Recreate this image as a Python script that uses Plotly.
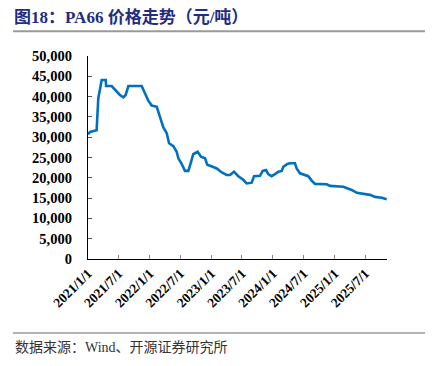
import plotly.graph_objects as go

dates = ["2021-01-01","2021-01-13","2021-02-21","2021-03-03","2021-03-13","2021-03-23","2021-04-16","2021-04-18",
         "2021-05-21","2021-06-10","2021-07-09","2021-07-29","2021-08-12","2021-08-28","2021-11-15","2021-12-04",
         "2021-12-24","2022-01-13","2022-02-12","2022-03-03","2022-03-23","2022-04-12","2022-04-26","2022-05-21",
         "2022-06-10","2022-06-20","2022-07-10","2022-07-29","2022-08-18","2022-09-01","2022-09-16","2022-10-12",
         "2022-11-01","2022-11-25","2022-12-08","2023-01-09","2023-02-02","2023-03-04","2023-04-02","2023-04-22",
         "2023-05-15","2023-06-10","2023-07-09","2023-07-29","2023-08-28","2023-09-11","2023-10-16","2023-11-01",
         "2023-11-21","2023-12-04","2023-12-24","2024-01-13","2024-02-02","2024-02-22","2024-03-02","2024-03-26",
         "2024-04-11","2024-05-10","2024-05-20","2024-06-09","2024-07-09","2024-07-28","2024-08-17","2024-09-06",
         "2024-11-14","2024-12-04","2025-02-20","2025-03-12","2025-04-11","2025-05-11","2025-06-29","2025-07-28",
         "2025-08-27","2025-10-06","2025-11-04"]
prices = [30700,31300,31700,39600,41800,44100,44100,42600,
          42600,41600,40400,39800,40400,42600,42600,40800,
          39000,37800,37500,35000,32400,31000,28500,27800,
          26400,24800,23400,21700,21700,23600,25800,26400,
          25200,24800,23200,22700,22300,21300,20700,20700,
          21500,20400,19500,18600,18800,20400,20500,21700,
          21900,20900,20400,20900,21500,21700,22700,23400,
          23600,23600,22300,21100,20700,20400,19300,18500,
          18400,18000,17800,17500,17000,16300,16000,15800,
          15300,15100,14700]

tick_vals = ["2021-01-01","2021-07-01","2022-01-01","2022-07-01","2023-01-01",
             "2023-07-01","2024-01-01","2024-07-01","2025-01-01","2025-07-01"]
tick_text = ["2021/1/1","2021/7/1","2022/1/1","2022/7/1","2023/1/1",
             "2023/7/1","2024/1/1","2024/7/1","2025/1/1","2025/7/1"]
y_ticks = [0,5000,10000,15000,20000,25000,30000,35000,40000,45000,50000]

title_text = "图18：PA66 价格走势（元/吨）"
source_text = "数据来源：Wind、开源证券研究所"

FONT = "Times New Roman, Liberation Serif, Noto Sans CJK SC, serif"

fig = go.Figure()
fig.add_trace(go.Scatter(x=dates, y=prices, mode="lines",
                         line=dict(color="#0070C0", width=2.6), showlegend=False))

OFF = 8  # page body margin
W, H = 435 - OFF, 366 - OFF
L, R, T, B = 88 - OFF, 387 - OFF, 55.7 - OFF, 259 - OFF
pw, ph = R - L, B - T

def px(x):
    return (x - OFF - L) / pw

def py(y):
    return (B - (y - OFF)) / ph

fig.update_layout(
    width=W, height=H,
    margin=dict(l=L, r=W - R, t=T, b=H - B, autoexpand=False),
    paper_bgcolor="white", plot_bgcolor="white",
    font=dict(family=FONT, color="black"),
    title=dict(text="<b>" + title_text + "</b>", x=(14 - OFF) / W, xanchor="left", xref="container",
               y=1 - (17 - OFF) / H, yanchor="middle", yref="container",
               font=dict(size=17, color="#1F2D86", family=FONT)),
    xaxis=dict(type="date", range=["2021-01-01", "2025-11-06"], automargin=False,
               tickvals=tick_vals, ticktext=["<b>%s</b>" % t for t in tick_text],
               tickangle=-45, ticks="inside", ticklen=4, tickcolor="#888",
               showline=True, linecolor="black", linewidth=1.3,
               showgrid=False, zeroline=False,
               tickfont=dict(size=13.5, family=FONT, color="black")),
    yaxis=dict(range=[0, 50000], tickvals=y_ticks, automargin=False,
               ticktext=["<b>%s</b>" % f"{v:,}" for v in y_ticks],
               ticks="inside", ticklen=4, tickcolor="#555",
               showline=True, linecolor="black", linewidth=1.3,
               showgrid=False, zeroline=False, ticklabelstandoff=12,
               tickfont=dict(size=14.5, family=FONT, color="black")),
    shapes=[
        dict(type="line", xref="paper", yref="paper", x0=px(13), x1=px(425), y0=py(31), y1=py(31),
             line=dict(color="#9A9A9A", width=2)),
        dict(type="line", xref="paper", yref="paper", x0=px(13), x1=px(425), y0=py(333), y1=py(333),
             line=dict(color="#9A9A9A", width=1.5)),
    ],
    annotations=[
        dict(text=source_text, xref="paper", yref="paper", x=px(13), y=py(348),
             xanchor="left", yanchor="middle", showarrow=False,
             font=dict(size=14, color="#333", family=FONT)),
    ],
)

fig.write_html("out.html")
